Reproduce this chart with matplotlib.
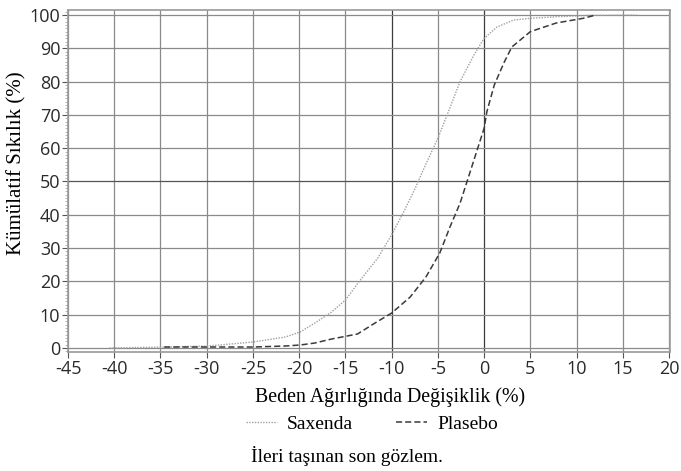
import numpy as np
import matplotlib
matplotlib.use("Agg")
import matplotlib.pyplot as plt
from matplotlib.ticker import MultipleLocator
from matplotlib.lines import Line2D

plt.rcParams['axes.unicode_minus'] = False

# Saxenda: kümülatif dağılım
saxenda_x = [-40.5, -34.4, -29.8, -25, -21.5, -19.9, -18.3, -16.5, -15, -13.5, -11.5, -10,
             -8.6, -7.4, -6.5, -5, -4, -2.6, -1.1, 0, 1.4, 3.2, 5, 8, 11.5, 16.5]
saxenda_y = [0, 0.3, 0.6, 1.8, 3.3, 4.8, 7.5, 10.8, 14.4, 20, 27, 34,
             41.4, 48.3, 54, 63, 70, 80, 88, 93, 96.4, 98.5, 99, 99.5, 99.9, 100]

# Plasebo
placebo_x = [-34.6, -29.8, -25, -21.5, -19.9, -18.3, -16.5, -13.7, -11.8, -10, -8, -6.3,
             -4.8, -3.7, -2.6, -1.5, 0, 0.3, 1.1, 2.2, 3, 5, 7.8, 10.7, 12.1]
placebo_y = [0.3, 0.3, 0.3, 0.6, 0.9, 1.5, 2.7, 4.2, 7.5, 10.5, 15.3, 21.3,
             28.5, 36.3, 43.5, 53, 66, 71, 79, 86, 90.4, 95, 97.6, 99, 100]

x_ticks = list(range(-45, 21, 5))
y_ticks = list(range(0, 101, 10))

serif = ['Liberation Serif', 'DejaVu Serif']
sans = ['Open Sans', 'DejaVu Sans']

W, H = 681, 471
fig = plt.figure(figsize=(W / 100, H / 100), dpi=100)
ax = fig.add_axes([68 / W, 1 - 352 / H, 602 / W, 342 / H])

ax.set_xlim(-45, 20.1)
ax.set_ylim(-1.2, 101.5)

# grid
for xv in x_ticks:
    c = '#3c3c3c' if xv in (-10, 0) else '#8a8a8a'
    ax.axvline(xv, color=c, lw=0.9, zorder=1)
for yv in y_ticks:
    c = '#555555' if yv == 50 else '#8a8a8a'
    ax.axhline(yv, color=c, lw=0.9, zorder=1)

ax.plot(saxenda_x, saxenda_y, color='#a0a0a0', lw=1.0, ls=(0, (1, 1)), zorder=3)
ax.plot(placebo_x, placebo_y, color='#3a3a3a', lw=1.1, ls=(0, (4, 2)), zorder=3)

ax.set_xticks(x_ticks)
ax.set_yticks(y_ticks)
ax.yaxis.set_minor_locator(MultipleLocator(1))
ax.tick_params(axis='both', which='major', labelsize=13, labelcolor='#2a2a2a',
               color='#555555', length=4, width=0.8, pad=1.5)
ax.tick_params(axis='y', which='minor', length=2, color='#999999', width=0.5)
for lab in ax.get_xticklabels() + ax.get_yticklabels():
    lab.set_family(sans)

for s in ax.spines.values():
    s.set_color('#9a9a9a')
    s.set_linewidth(1.2)

fig.text(390 / W, 1 - 397 / H, 'Beden Ağırlığında Değişiklik (%)', family=serif, fontsize=14.3,
         ha='center', va='center')
fig.text(17 / W, 1 - 163 / H, 'Kümülatif Sıkılık (%)', family=serif, fontsize=15,
         rotation=90, ha='center', va='center')

handles = [Line2D([], [], color='#a0a0a0', lw=1.0, ls=(0, (1, 1))),
           Line2D([], [], color='#3a3a3a', lw=1.1, ls=(0, (4, 2)))]
leg = fig.legend(handles, ['Saxenda', 'Plasebo'], loc='center',
                 bbox_to_anchor=(372 / W, 1 - 424 / H),
                 ncol=2, frameon=False, prop={'family': serif, 'size': 14},
                 handlelength=1.6, columnspacing=2.2, handletextpad=0.5,
                 borderpad=0, borderaxespad=0)

fig.text(347 / W, 1 - 456 / H, 'İleri taşınan son gözlem.', family=serif, fontsize=14,
         ha='center', va='center')

fig.savefig('out.png', dpi=100)
